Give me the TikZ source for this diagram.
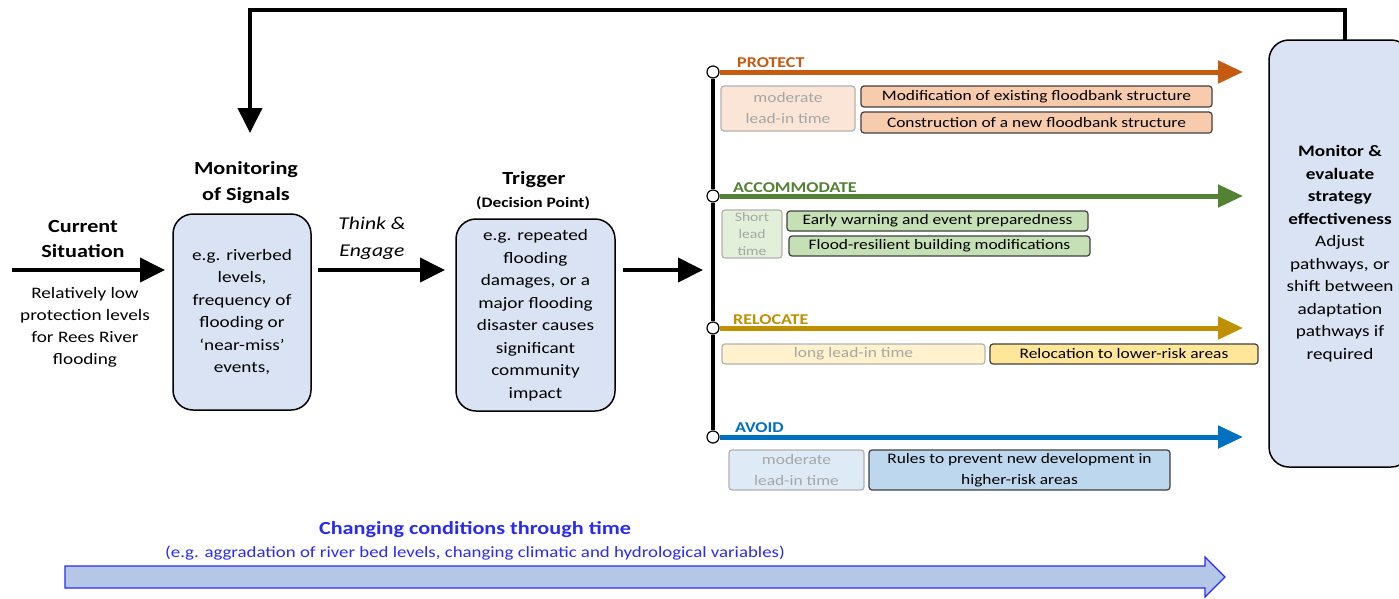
\documentclass[tikz,border=0pt]{standalone}
\usepackage{fontspec}
\setmainfont{Carlito}[FakeStretch=1.2]
\usepackage{xcolor}
\usepackage{tikz}
\usetikzlibrary{arrows.meta,positioning}

\definecolor{boxblue}{HTML}{DAE3F3}
\definecolor{protectc}{HTML}{C55A11}
\definecolor{accomc}{HTML}{548235}
\definecolor{relocc}{HTML}{BF9000}
\definecolor{avoidc}{HTML}{0070C0}
\definecolor{protectf}{HTML}{F8CBAD}
\definecolor{accomf}{HTML}{C5E0B4}
\definecolor{relocf}{HTML}{FFE699}
\definecolor{avoidf}{HTML}{BDD7EE}
\definecolor{protectl}{HTML}{FBE5D6}
\definecolor{accoml}{HTML}{E2F0D9}
\definecolor{relocl}{HTML}{FFF2CC}
\definecolor{avoidl}{HTML}{DEEBF7}
\definecolor{fadetext}{HTML}{A6A6A6}
\definecolor{timec}{HTML}{2B2BF0}
\definecolor{timef}{HTML}{B4C7E7}

\begin{document}
\begin{tikzpicture}[x=1pt,y=-1pt,
    bigarrow/.style={line width=4pt,-{Triangle[length=25pt,width=24pt]}},
    patharrow/.style={line width=5pt,-{Triangle[length=25pt,width=22pt]}},
    ttl/.style={align=center,inner sep=0,font=\bfseries\fontsize{18.5}{25.5}\selectfont},
    txt/.style={align=center,inner sep=0,font=\fontsize{16}{22}\selectfont},
    mainbox/.style={draw,line width=1.5pt,rounded corners=20pt,fill=boxblue,
      align=center,inner sep=0,outer sep=0,font=\fontsize{16}{22.5}\selectfont},
    optbox/.style={draw=black!75,line width=1.2pt,rounded corners=3pt,inner sep=0,
      outer sep=0,align=center,font=\fontsize{14.5}{21}\selectfont},
    leadbox/.style={optbox,draw=black!30,text=fadetext},
    dot/.style={circle,draw,line width=1.2pt,fill=white,minimum size=12pt,inner sep=0},
    pathname/.style={anchor=west,inner sep=0,font=\bfseries\fontsize{15}{17}\selectfont}]

  \path[use as bounding box,fill=white] (0,0) rectangle (1399,598);

  % current situation
  \node[ttl] (cur) at (83,239) {Current\\Situation};
  \node[txt] (curtxt) at (85,327) {Relatively low\\protection levels\\for Rees River\\flooding};
  \coordinate (start) at (12,270);

  % monitoring and trigger
  \node[ttl] (montitle) at (246,182.5) {Monitoring\\of Signals};
  \node[mainbox,minimum width=138pt,minimum height=196pt] (mon) at (242,312)
    {e.g. riverbed\\levels,\\frequency of\\flooding or\\‘near-miss’\\events,};
  \node[align=center,inner sep=0,font=\itshape\fontsize{18}{27}\selectfont] (think) at (372,238.5) {Think \&\\Engage};
  \node[ttl] (trigtitle) at (534,180) {Trigger};
  \node[inner sep=0,font=\bfseries\fontsize{14.5}{16}\selectfont] (decision) at (533,203) {(Decision Point)};
  \node[mainbox,minimum width=159pt,minimum height=192pt] (trig) at (535.5,315)
    {e.g. repeated\\flooding\\damages, or a\\major flooding\\disaster causes\\significant\\community\\impact};

  \draw[bigarrow,shorten >=8pt] (start) -- (start -| mon.west);
  \draw[bigarrow,shorten <=7pt,shorten >=11pt] (mon.east |- start) -- (trig.west |- start);

  % pathway spine
  \node[dot] (p1) at (713,72) {};
  \node[dot] (p2) at (713,196) {};
  \node[dot] (p3) at (713,328) {};
  \node[dot] (p4) at (713,437) {};
  \draw[line width=3.5pt] (p1) -- (p2) (p2) -- (p3) (p3) -- (p4);
  \draw[bigarrow,shorten <=8pt,shorten >=10pt] (trig.east |- start) -- (p1 |- start);

  \coordinate (e1) at (1243,72);
  \coordinate (e2) at (1243,196);
  \coordinate (e3) at (1243,328);
  \coordinate (e4) at (1243,437);
  \draw[patharrow,protectc] (p1) -- (e1);
  \draw[patharrow,accomc] (p2) -- (e2);
  \draw[patharrow,relocc] (p3) -- (e3);
  \draw[patharrow,avoidc] (p4) -- (e4);

  \node[pathname,text=protectc] (protect) at (737,63) {PROTECT};
  \node[pathname,text=accomc] (accom) at (733,188) {ACCOMMODATE};
  \node[pathname,text=relocc] (reloc) at (733,320) {RELOCATE};
  \node[pathname,text=avoidc] (avoid) at (735,428) {AVOID};

  % protect options
  \node[leadbox,fill=protectl,minimum width=134pt,minimum height=45pt] (lead1) at (788,108.5) {moderate\\lead-in time};
  \node[optbox,fill=protectf,minimum width=351pt,minimum height=21pt] (modif) at (1036.5,96.5) {Modification of existing floodbank structure};
  \node[optbox,fill=protectf,minimum width=351pt,minimum height=21pt] (constr) at (1036.5,122.5) {Construction of a new floodbank structure};

  % accommodate options
  \node[leadbox,fill=accoml,minimum width=60pt,minimum height=48pt,font=\fontsize{13}{17}\selectfont] (lead2) at (752,234) {Short\\lead\\time};
  \node[optbox,fill=accomf,minimum width=301pt,minimum height=20pt] (warn) at (937.5,221) {Early warning and event preparedness};
  \node[optbox,fill=accomf,minimum width=301pt,minimum height=20pt] (resil) at (939.5,246) {Flood-resilient building modifications};

  % relocate options
  \node[leadbox,fill=relocl,minimum width=263pt,minimum height=20pt] (lead3) at (853.5,354) {long lead-in time};
  \node[optbox,fill=relocf,minimum width=268pt,minimum height=20pt] (lower) at (1124,354) {Relocation to lower-risk areas};

  % avoid options
  \node[leadbox,fill=avoidl,minimum width=135pt,minimum height=40pt] (lead4) at (796.5,470) {moderate\\lead-in time};
  \node[optbox,fill=avoidf,minimum width=301pt,minimum height=40pt] (rules) at (1019.5,470) {Rules to prevent new development in\\higher-risk areas};

  % monitor and evaluate, feedback loop
  \node[mainbox,minimum width=142pt,minimum height=427pt] (eval) at (1340,253.5)
    {\textbf{Monitor \&}\\\textbf{evaluate}\\\textbf{strategy}\\\textbf{effectiveness}\\Adjust\\pathways, or\\shift between\\adaptation\\pathways if\\required};
  \coordinate (fbtop) at (250,10);
  \coordinate (fbend) at (250,133);
  \draw[bigarrow] ([xshift=5pt]eval.north) |- (fbtop) -- (fbend);

  % changing conditions
  \node[inner sep=0,text=timec,font=\bfseries\fontsize{18.5}{22}\selectfont] (change) at (475,530) {Changing conditions through time};
  \node[inner sep=0,text=timec,font=\fontsize{15.7}{18}\selectfont] (changeeg) at (475,553) {(e.g. aggradation of river bed levels, changing climatic and hydrological variables)};
  \draw[timec,line width=1.2pt,fill=timef] (65,566) -- (1205,566) -- (1205,557) -- (1225,577)
    -- (1205,597) -- (1205,588) -- (65,588) -- cycle;
\end{tikzpicture}
\end{document}
